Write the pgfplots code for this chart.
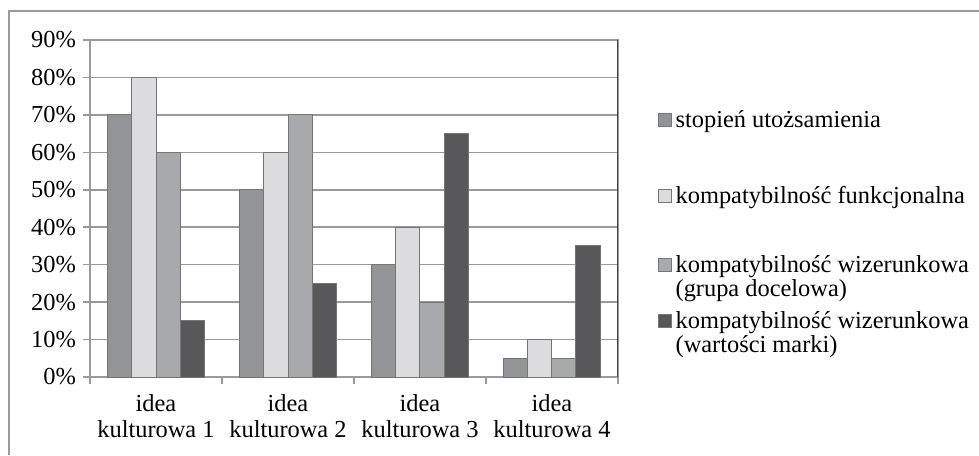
\documentclass[border=0pt]{standalone}
\usepackage{pgfplots}
\pgfplotsset{compat=1.18}
\usepackage{fontspec}
\setmainfont{Liberation Serif}
\definecolor{sa}{HTML}{939498}
\definecolor{sb}{HTML}{DCDCDE}
\definecolor{sc}{HTML}{A8A9AC}
\definecolor{sd}{HTML}{58585B}
\definecolor{gridc}{HTML}{9A9A9A}
\definecolor{edgec}{HTML}{767676}
\begin{document}
\begin{tikzpicture}[font=\fontsize{12.2}{12.7}\selectfont]
\useasboundingbox (0,0) rectangle (489.5pt,227.5pt);
\draw[color=gridc, line width=0.8pt] (4.5pt,0) -- (4.5pt,222pt) -- (489.5pt,222pt);
\begin{axis}[
  at={(45pt,39pt)}, anchor=south west,
  scale only axis, width=264pt, height=168.5pt,
  xmin=0.5, xmax=4.5, ymin=0, ymax=90,
  ybar, bar width=12pt,
  axis line style={color=gridc, line width=0.8pt},
  ymajorgrids, grid style={color=gridc, line width=0.75pt},
  ytick={0,10,...,90},
  yticklabel={\pgfmathprintnumber{\tick}\%},
  /pgf/number format/assume math mode=true,
  xtick={0.5,1.5,2.5,3.5,4.5}, xticklabels={},
  extra x ticks={1,2,3,4},
  extra x tick labels={{idea\\kulturowa 1},{idea\\kulturowa 2},{idea\\kulturowa 3},{idea\\kulturowa 4}},
  extra x tick style={major tick length=0pt, grid=none},
  xticklabel style={align=center, yshift=-5.5pt},
  yticklabel style={xshift=0pt},
  xtick pos=bottom, ytick pos=left,
  tick align=outside, major tick length=3.5pt,
  tick style={color=gridc, line width=0.8pt},
  legend style={at={(axis description cs:1.0758,0.7923)}, anchor=north west,
    draw=none, fill=none, inner sep=0pt, outer sep=0pt,
    row sep=0pt, column sep=2pt,
    cells={anchor=base west}, nodes={inner sep=0pt}},
  legend image code/.code={\draw[#1, line width=0.5pt] (0pt,0.3pt) rectangle (6.3pt,6.6pt);},
  every axis plot/.append style={draw=edgec, line width=0.5pt},
  after end axis/.code={\draw[color=black!75, line width=0.5pt] (rel axis cs:1,0) -- (rel axis cs:1,1);},
]
\addplot[fill=sa, bar shift=-18pt] coordinates {(1,70) (2,50) (3,30) (4,5)};
\addlegendentry{\rule[-3pt]{0pt}{11.5pt}stopień utożsamienia}
\addplot[fill=sb, bar shift=-6pt] coordinates {(1,80) (2,60) (3,40) (4,10)};
\addlegendentry{\rule[-3pt]{0pt}{39.5pt}kompatybilność funkcjonalna}
\addplot[fill=sc, bar shift=6pt] coordinates {(1,60) (2,70) (3,20) (4,5)};
\addlegendentry{\rule[-3pt]{0pt}{36pt}kompatybilność wizerunkowa}
\addlegendimage{empty legend}
\addlegendentry{\rule[-3pt]{0pt}{13.5pt}(grupa docelowa)}
\addplot[fill=sd, bar shift=18pt] coordinates {(1,15) (2,25) (3,65) (4,35)};
\addlegendentry{\rule[-3pt]{0pt}{17.5pt}kompatybilność wizerunkowa}
\addlegendimage{empty legend}
\addlegendentry{\rule[-3pt]{0pt}{13.5pt}(wartości marki)}
\end{axis}
\end{tikzpicture}
\end{document}
